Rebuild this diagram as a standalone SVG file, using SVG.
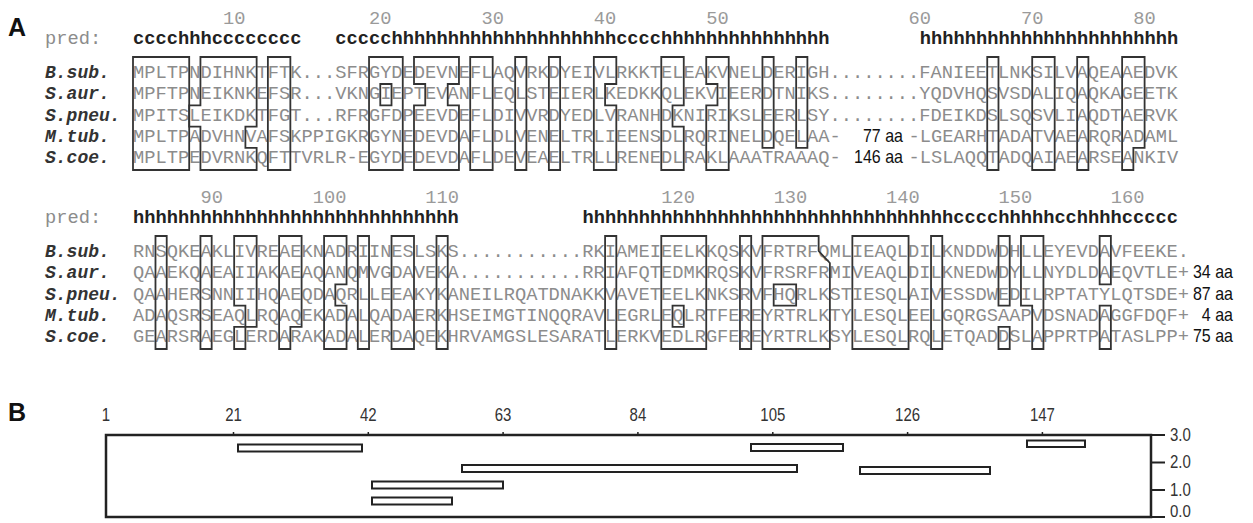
<svg xmlns="http://www.w3.org/2000/svg" width="1253" height="523" viewBox="0 0 1253 523">
<style>
.seq{font-family:"Liberation Mono","Courier New",monospace;font-size:18.73px;fill:#8c8c8c}
.num{font-family:"Liberation Mono","Courier New",monospace;font-size:18.73px;fill:#9a9a9a;text-anchor:middle}
.sp{font-family:"Liberation Mono","Courier New",monospace;font-size:18px;font-weight:bold;font-style:italic;fill:#333}
.pl{font-family:"Liberation Mono","Courier New",monospace;font-size:18.73px;fill:#8c8c8c}
.pred{font-family:"Liberation Mono","Courier New",monospace;font-size:18.73px;font-weight:bold;fill:#222}
.aa{font-family:"Liberation Sans",Arial,sans-serif;font-size:16px;fill:#111;text-anchor:end}
.lab{font-family:"Liberation Sans",Arial,sans-serif;font-size:25px;font-weight:bold;fill:#111}
.ax{font-family:"Liberation Sans",Arial,sans-serif;font-size:15px;fill:#333}
.axm{font-family:"Liberation Sans",Arial,sans-serif;font-size:15px;fill:#333;text-anchor:middle}
.bx path{fill:none;stroke:#333;stroke-width:1.8;vector-effect:non-scaling-stroke;stroke-linejoin:miter}
.bar{fill:#fff;stroke:#222;stroke-width:2}
</style>
<rect width="1253" height="523" fill="#fff"/>

<text class="lab" x="8" y="36">A</text>
<text class="lab" x="8" y="421">B</text>

<!-- Block 1 -->
<g id="block1">
  <g id="nums1">
    <text class="num" x="234.16" y="24">10</text>
    <text class="num" x="380.28" y="24">20</text>
    <text class="num" x="492.68" y="24">30</text>
    <text class="num" x="605.08" y="24">40</text>
    <text class="num" x="717.48" y="24">50</text>
    <text class="num" x="919.8" y="24">60</text>
    <text class="num" x="1032.2" y="24">70</text>
    <text class="num" x="1144.6" y="24">80</text>
  </g>
  <text class="pl" x="45" y="44">pred:</text>
  <text class="pred" x="133" y="44">cccchhhcccccccc</text>
  <text class="pred" x="335.32" y="44">ccccchhhhhhhhhhhhhhhhhhhhcccchhhhhhhhhhhhhhh</text>
  <text class="pred" x="919.8" y="44">hhhhhhhhhhhhhhhhhhhhhhh</text>

  <g id="labels1">
    <text class="sp" x="45" y="78">B.sub.</text>
    <text class="sp" x="45" y="99.3">S.aur.</text>
    <text class="sp" x="45" y="120.6">S.pneu.</text>
    <text class="sp" x="45" y="141.9">M.tub.</text>
    <text class="sp" x="45" y="163.2">S.coe.</text>
  </g>
  <g id="seqs1">
    <text class="seq" x="133" y="78">MPLTPNDIHNKTFTK...SFRGYDEDEVNEFLAQVRKDYEIVLRKKTELEAKVNELDERIGH........FANIEETLNKSILVAQEAAEDVK</text>
    <text class="seq" x="133" y="99.3">MPFTPNEIKNKEFSR...VKNGIEPTEVANFLEQLSTEIERLKEDKKQLEKVIEERDTNIKS........YQDVHQSVSDALIQAQKAGEETK</text>
    <text class="seq" x="133" y="120.6">MPITSLEIKDKTFGT...RFRGFDPEEVDEFLDIVVRDYEDLVRANHDKNIRIKSLEERLSY........FDEIKDSLSQSVLIAQDTAERVK</text>
    <text class="seq" x="133" y="141.9">MPLTPADVHNVAFSKPPIGKRGYNEDEVDAFLDLVENELTRLIEENSDLRQRINELDQELAA-</text>
    <text class="aa" transform="matrix(1 0 0 1.15 903 141.9)">77 aa</text>
    <text class="seq" x="908.56" y="141.9">-LGEARHTADATVAEARQRADAML</text>
    <text class="seq" x="133" y="163.2">MPLTPEDVRNKQFTTVRLR-EGYDEDEVDAFLDEVEAELTRLLRENEDLRAKLAAATRAAAQ-</text>
    <text class="aa" transform="matrix(1 0 0 1.15 903 163.2)">146 aa</text>
    <text class="seq" x="908.56" y="163.2">-LSLAQQTADQAIAEARSEANKIV</text>
  </g>
  <g id="boxes1" class="bx" transform="matrix(11.24 0 0 1 121.76 0)">
    <path d="M1 57H6V170H1Z"/>
    <path d="M7 57H12V126.6H11V147.9H12V170H7V126.6H6V105.3H7Z"/>
    <path d="M13 57H15V170H13Z"/>
    <path d="M22 57H25V170H22Z"/>
    <path d="M23 84H24V105.3H23Z"/>
    <path d="M26 57H30V84H29V105.3H30V170H26V105.3H27V84H26Z"/>
    <path d="M31 57H33V170H31Z"/>
    <path d="M35 57H36V170H35Z"/>
    <path d="M38 57H39V170H38Z"/>
    <path d="M42 57H44V84H43V105.3H44V170H42Z"/>
    <path d="M48 57H50V105.3H49V126.6H50V170H48Z"/>
    <path d="M52 57H54V170H52V105.3H53V84H52Z"/>
    <path d="M57 57H58V147.9H57Z"/>
    <path d="M60 57H61V147.9H60Z"/>
    <path d="M77 57H78V170H77Z"/>
    <path d="M81 57H83V170H81Z"/>
    <path d="M85 57H86V170H85Z"/>
    <path d="M89 57H91V147.9H90V170H89Z"/>
  </g>
</g>

<!-- Block 2 -->
<g id="block2">
  <g id="nums2">
    <text class="num" x="211.68" y="203">90</text>
    <text class="num" x="329.7" y="203">100</text>
    <text class="num" x="442.1" y="203">110</text>
    <text class="num" x="678.1" y="203">120</text>
    <text class="num" x="790.5" y="203">130</text>
    <text class="num" x="902.9" y="203">140</text>
    <text class="num" x="1015.3" y="203">150</text>
    <text class="num" x="1127.7" y="203">160</text>
  </g>
  <text class="pl" x="45" y="223">pred:</text>
  <text class="pred" x="133" y="223">hhhhhhhhhhhhhhhhhhhhhhhhhhhhh</text>
  <text class="pred" x="582.6" y="223">hhhhhhhhhhhhhhhhhhhhhhhhhhhhhhhhhcccchhhhhcchhhhccccc</text>

  <g id="labels2">
    <text class="sp" x="45" y="257">B.sub.</text>
    <text class="sp" x="45" y="278.3">S.aur.</text>
    <text class="sp" x="45" y="299.6">S.pneu.</text>
    <text class="sp" x="45" y="320.9">M.tub.</text>
    <text class="sp" x="45" y="342.2">S.coe.</text>
  </g>
  <g id="seqs2">
    <text class="seq" x="133" y="257">RNSQKEAKLIVREAEKNADRIINESLSKS...........RKIAMEIEELKKQSKVFRTRFQMLIEAQLDILKNDDWDHLLEYEVDAVFEEKE.</text>
    <text class="seq" x="133" y="278.3">QAAEKQAEAIIAKAEAQANQMVGDAVEKA...........RRIAFQTEDMKRQSKVFRSRFRMIVEAQLDILKNEDWDYLLNYDLDAEQVTLE+</text>
    <text class="seq" x="133" y="299.6">QAAHERSNNIIHQAEQDAQRLLEEAKYKANEILRQATDNAKKVAVETEELKNKSRVFHQRLKSTIESQLAIVESSDWEDILRPTATYLQTSDE+</text>
    <text class="seq" x="133" y="320.9">ADAQSRSEAQLRQAQEKADALQADAERKHSEIMGTINQQRAVLEGRLEQLRTFEREYRTRLKTYLESQLEELGQRGSAAPVDSNADAGGFDQF+</text>
    <text class="seq" x="133" y="342.2">GEARSRAEGLERDARAKADALERDAQEKHRVAMGSLESARATLERKVEDLRGFEREYRTRLKSYLESQLRQLETQADDSLAPPRTPATASLPP+</text>
    <text class="aa" transform="matrix(1 0 0 1.15 1233 278.3)">34 aa</text>
    <text class="aa" transform="matrix(1 0 0 1.15 1233 299.6)">87 aa</text>
    <text class="aa" transform="matrix(1 0 0 1.15 1233 320.9)">4 aa</text>
    <text class="aa" transform="matrix(1 0 0 1.15 1233 342.2)">75 aa</text>
  </g>
  <g id="boxes2" class="bx" transform="matrix(11.24 0 0 1 121.76 179)">
    <path d="M3 57H4V170H3Z"/>
    <path d="M7 57H8V170H7Z"/>
    <path d="M10 57H12V147.9H11V170H10V147.9H11V126.6H10Z"/>
    <path d="M14 57H16V147.9H15V170H14Z"/>
    <path d="M18 57H20V105.3H19V126.6H20V170H18Z"/>
    <path d="M21 57H22V170H21Z"/>
    <path d="M24 57H26V170H24Z"/>
    <path d="M28 57H29V170H28Z"/>
    <path d="M43 57H44V170H43Z"/>
    <path d="M48 57H52V170H48Z"/>
    <path d="M49 126.6H50V147.9H49Z"/>
    <path d="M55 57H56V170H55Z"/>
    <path d="M57 57H62V72L63 84V170H57Z"/>
    <path d="M58 105.3H60V126.6H58Z"/>
    <path d="M65 57H70V170H65Z"/>
    <path d="M72 57H73V170H72Z"/>
    <path d="M78 57H79V126.6H78Z"/>
    <path d="M78 147.9H79V170H78Z"/>
    <path d="M80 57H82V170H81V126.6H80Z"/>
    <path d="M87 57H88V105.3H87Z"/>
    <path d="M87 126.6H88V170H87Z"/>
  </g>
</g>

<!-- Panel B -->
<g id="panelB">
  <g id="axis-labels">
    <text class="axm" transform="matrix(1 0 0 1.2 106 421)">1</text>
    <text class="axm" transform="matrix(1 0 0 1.2 233.5 421)">21</text>
    <text class="axm" transform="matrix(1 0 0 1.2 368.3 421)">42</text>
    <text class="axm" transform="matrix(1 0 0 1.2 503.1 421)">63</text>
    <text class="axm" transform="matrix(1 0 0 1.2 637.9 421)">84</text>
    <text class="axm" transform="matrix(1 0 0 1.2 772.8 421)">105</text>
    <text class="axm" transform="matrix(1 0 0 1.2 907.6 421)">126</text>
    <text class="axm" transform="matrix(1 0 0 1.2 1042.4 421)">147</text>
  </g>
  <g id="frame" stroke="#222" fill="none">
    <rect x="106" y="435" width="1045" height="82" stroke-width="2.5"/>
    <path d="M1151 435H1165M1151 462.5H1165M1151 490H1165M1151 517H1165" stroke-width="2"/>
    <path d="M233.5 435V432M368.3 435V432M503.1 435V432M637.9 435V432M772.8 435V432M907.6 435V432M1042.4 435V432" stroke-width="1.5"/>
  </g>
  <g id="right-labels">
    <text class="ax" transform="matrix(1 0 0 1.2 1170 441)">3.0</text>
    <text class="ax" transform="matrix(1 0 0 1.2 1170 468)">2.0</text>
    <text class="ax" transform="matrix(1 0 0 1.2 1170 496)">1.0</text>
    <text class="ax" transform="matrix(1 0 0 1.1 1170 517)">0.0</text>
  </g>
  <g id="bars">
    <rect class="bar" x="238" y="444.5" width="124" height="7"/>
    <rect class="bar" x="462" y="465" width="335" height="7"/>
    <rect class="bar" x="372" y="481.5" width="131" height="7"/>
    <rect class="bar" x="372" y="497.5" width="80" height="7"/>
    <rect class="bar" x="751" y="444" width="92" height="7"/>
    <rect class="bar" x="860" y="467" width="130" height="7"/>
    <rect class="bar" x="1027" y="440.5" width="58" height="6.5"/>
  </g>
</g>
</svg>
